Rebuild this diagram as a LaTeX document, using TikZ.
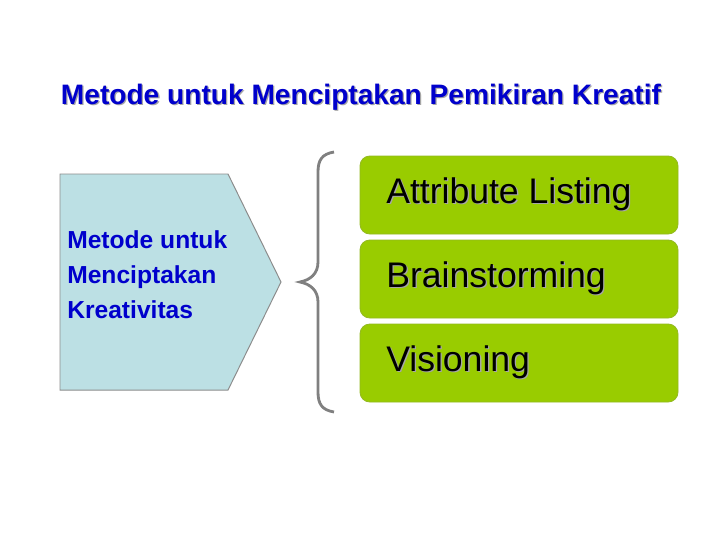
\documentclass[tikz,border=0pt]{standalone}
\usepackage{fontspec}
\setmainfont{Liberation Sans}
\usetikzlibrary{positioning}
\usetikzlibrary{calc}
\definecolor{titleblue}{RGB}{0,0,204}
\definecolor{pentfill}{RGB}{188,224,228}
\definecolor{boxgreen}{RGB}{153,204,0}
\newcommand{\shadowed}[1]{\rlap{\kern0.9pt\raisebox{-0.9pt}{\color{black!35}#1}}#1}
\tikzstyle{heading}=[font=\bfseries\fontsize{20}{24}\selectfont,text=titleblue,inner sep=0pt]
\tikzstyle{pentagon}=[draw=black!45,fill=pentfill,line width=0.7pt]
\tikzstyle{sidetext}=[font=\bfseries\fontsize{17.5}{25}\selectfont,text=titleblue,align=left,inner sep=0pt]
\tikzstyle{methodbox}=[draw=boxgreen!75!gray,fill=boxgreen,rounded corners=7pt,line width=0.6pt]
\tikzstyle{methodtext}=[font=\fontsize{25.3}{29}\selectfont,inner sep=0pt]
\tikzstyle{brace}=[draw=black!50,line width=2pt]

\begin{document}
\begin{tikzpicture}[x=0.025cm,y=-0.025cm]

   \useasboundingbox (0,0) rectangle (720,540);

   \node[heading] (title) at (361,98) {\shadowed{Metode untuk Menciptakan Pemikiran Kreatif}};

   % left block
   \draw[pentagon] (60,174) -- (228,174) -- (281,282) -- (228,390) -- (60,390) -- cycle;
   \node[sidetext,anchor=west] (side) at (67,275) {Metode untuk\\Menciptakan\\Kreativitas};

   % brace
   \draw[brace] (334,152) .. controls (322,154) and (318,160) .. (318,172)
      -- (318,262) .. controls (318,274) and (310,280) .. (300,282)
      .. controls (310,284) and (318,290) .. (318,302)
      -- (318,392) .. controls (318,404) and (322,410) .. (334,412);

   % methods
   \foreach \top/\name/\label in {156/attr/{Attribute Listing}, 240/brain/Brainstorming, 324/vision/Visioning}
      {
      \draw[methodbox] (360,\top) rectangle (678,\top+78);
      \node[methodtext,anchor=west] (\name) at (386,\top+39) {\shadowed{\label}};
      }

\end{tikzpicture}
\end{document}
